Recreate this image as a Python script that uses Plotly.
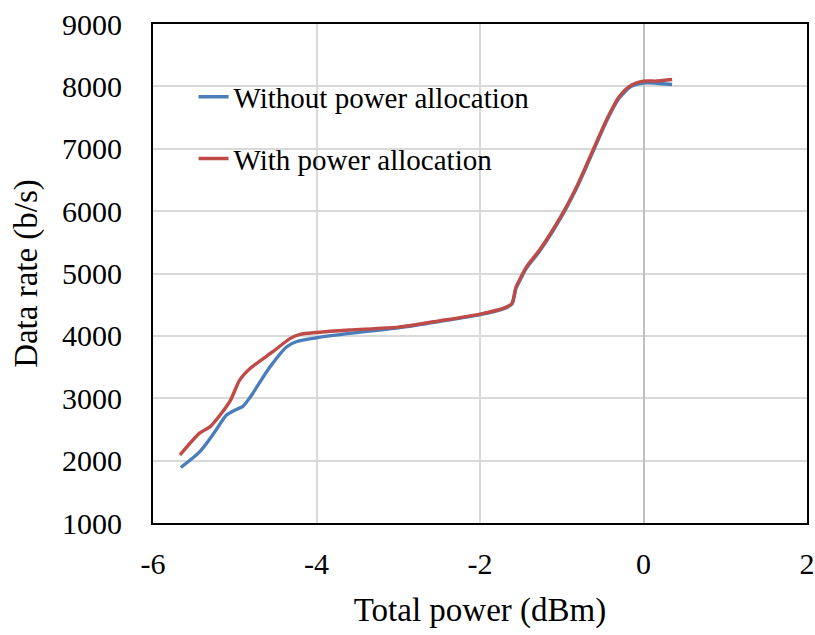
import plotly.graph_objects as go

# Total power (dBm) vs. data rate (b/s)
x_without = [-5.66, -5.43, -5.25, -5.10, -4.98, -4.90, -4.81, -4.57, -4.36, -4.24,
             -4.00, -3.60, -3.00, -2.50, -2.00, -1.70, -1.61, -1.56, -1.50, -1.43,
             -1.27, -1.00, -0.80, -0.61, -0.45, -0.30, -0.15, 0.00, 0.16, 0.35]
y_without = [1890, 2140, 2450, 2730, 2820, 2870, 3020, 3500, 3830, 3910,
             3970, 4040, 4130, 4230, 4340, 4440, 4510, 4760, 4920, 5090,
             5360, 5920, 6420, 6980, 7450, 7810, 8000, 8055, 8050, 8030]

x_with = [-5.67, -5.43, -5.30, -5.06, -4.94, -4.81, -4.53, -4.32, -4.20, -4.00,
          -3.60, -3.00, -2.50, -2.00, -1.70, -1.61, -1.56, -1.50, -1.43, -1.27,
          -1.00, -0.80, -0.61, -0.45, -0.30, -0.15, 0.00, 0.16, 0.35]
y_with = [2090, 2440, 2545, 2950, 3290, 3480, 3750, 3960, 4025, 4055,
          4095, 4140, 4240, 4350, 4450, 4520, 4780, 4940, 5110, 5380,
          5940, 6440, 7000, 7470, 7830, 8020, 8085, 8085, 8110]

series_names = ["Without power allocation", "With power allocation"]
x_ticks = [-6, -4, -2, 0, 2]
y_ticks = [1000, 2000, 3000, 4000, 5000, 6000, 7000, 8000, 9000]

FONT = "Liberation Serif"

fig = go.Figure()
fig.add_trace(go.Scatter(
    x=x_without, y=y_without, mode="lines", name=series_names[0],
    legendgroup="a",
    line=dict(color="#4A7EBB", width=3.4, shape="spline", smoothing=0.7),
))
fig.add_trace(go.Scatter(
    x=x_with, y=y_with, mode="lines", name=series_names[1],
    legendgroup="b",
    line=dict(color="#BE4B48", width=3.4, shape="spline", smoothing=0.7),
))

fig.update_layout(
    width=815, height=635,
    margin=dict(l=153, r=8, t=24, b=112, autoexpand=False),
    paper_bgcolor="white", plot_bgcolor="white",
    font=dict(family=FONT, color="black", size=30),
    showlegend=True,
    legend=dict(
        x=0.062, y=0.905, xanchor="left", yanchor="top",
        bgcolor="rgba(0,0,0,0)",
        font=dict(family=FONT, size=29, color="black"),
        tracegroupgap=21,
        itemwidth=30,
    ),
    xaxis=dict(
        range=[-6, 2], tickvals=x_ticks, ticktext=[str(v) for v in x_ticks],
        automargin=False,
        showgrid=True, gridcolor="#D9D9D9", gridwidth=1.5,
        zeroline=True, zerolinecolor="#BFBFBF", zerolinewidth=1.5,
        showline=True, linecolor="black", linewidth=2, mirror=True,
        ticks="outside", ticklen=13, tickcolor="rgba(0,0,0,0)",
        tickfont=dict(family=FONT, size=30),
        title=dict(text="Total power (dBm)", font=dict(family=FONT, size=33), standoff=19),
    ),
    yaxis=dict(
        range=[1000, 9000], tickvals=y_ticks, ticktext=[str(v) for v in y_ticks],
        automargin=False,
        showgrid=True, gridcolor="#D9D9D9", gridwidth=1.5,
        zeroline=False,
        showline=True, linecolor="black", linewidth=2, mirror=True,
        ticks="outside", ticklen=23, tickcolor="rgba(0,0,0,0)",
        tickfont=dict(family=FONT, size=30),
        title=dict(text="Data rate (b/s)", font=dict(family=FONT, size=33), standoff=14),
    ),
)

fig.write_html("out.html")
